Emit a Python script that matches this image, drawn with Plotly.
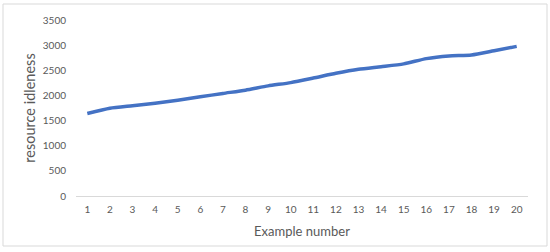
import plotly.graph_objects as go

examples = [str(i) for i in range(1, 21)]
idleness = [1640, 1745, 1795, 1845, 1905, 1972, 2040, 2105, 2190, 2255,
            2345, 2440, 2520, 2572, 2628, 2732, 2785, 2805, 2888, 2975]
y_ticks = [0, 500, 1000, 1500, 2000, 2500, 3000, 3500]

W, H = 550, 252
L, R, T, B = 76, 22, 20, 56
pw, ph = W - L - R, H - T - B

def px2paper_x(px):
    return (px - L) / pw

def px2paper_y(py):
    return (H - B - py) / ph

fig = go.Figure()
fig.add_trace(go.Scatter(
    x=examples, y=idleness, mode="lines",
    line=dict(color="#4472C4", width=3.5, shape="spline", smoothing=0.6),
    hoverinfo="x+y", showlegend=False,
))

fig.add_shape(type="rect", xref="paper", yref="paper",
              x0=px2paper_x(3), x1=px2paper_x(547),
              y0=px2paper_y(246), y1=px2paper_y(4),
              line=dict(color="#d9d9d9", width=1), fillcolor="rgba(0,0,0,0)",
              layer="below")

font_family = "Lato, 'Open Sans', sans-serif"
fig.update_layout(
    width=W, height=H, autosize=False,
    margin=dict(l=L, r=R, t=T, b=B, pad=0, autoexpand=False),
    paper_bgcolor="white", plot_bgcolor="white",
    font=dict(family=font_family, color="#595959"),
    xaxis=dict(
        type="category", range=[-0.5, 19.5], automargin=False,
        showgrid=False, zeroline=False,
        showline=True, linecolor="#d9d9d9", linewidth=1,
        ticks="", ticklabelstandoff=4,
        tickfont=dict(size=10, color="#595959"),
        title=dict(text="Example number", font=dict(size=13, color="#595959"), standoff=12),
    ),
    yaxis=dict(
        range=[0, 3500], tickvals=y_ticks, automargin=False,
        showgrid=False, zeroline=False, showline=False,
        ticks="", ticklabelstandoff=9,
        tickfont=dict(size=10, color="#595959"),
        title=dict(text="resource idleness", font=dict(size=14.5, color="#595959"), standoff=3),
    ),
)

fig.write_html("out.html", config={"displayModeBar": False},
               post_script="document.body.style.margin='0';")
